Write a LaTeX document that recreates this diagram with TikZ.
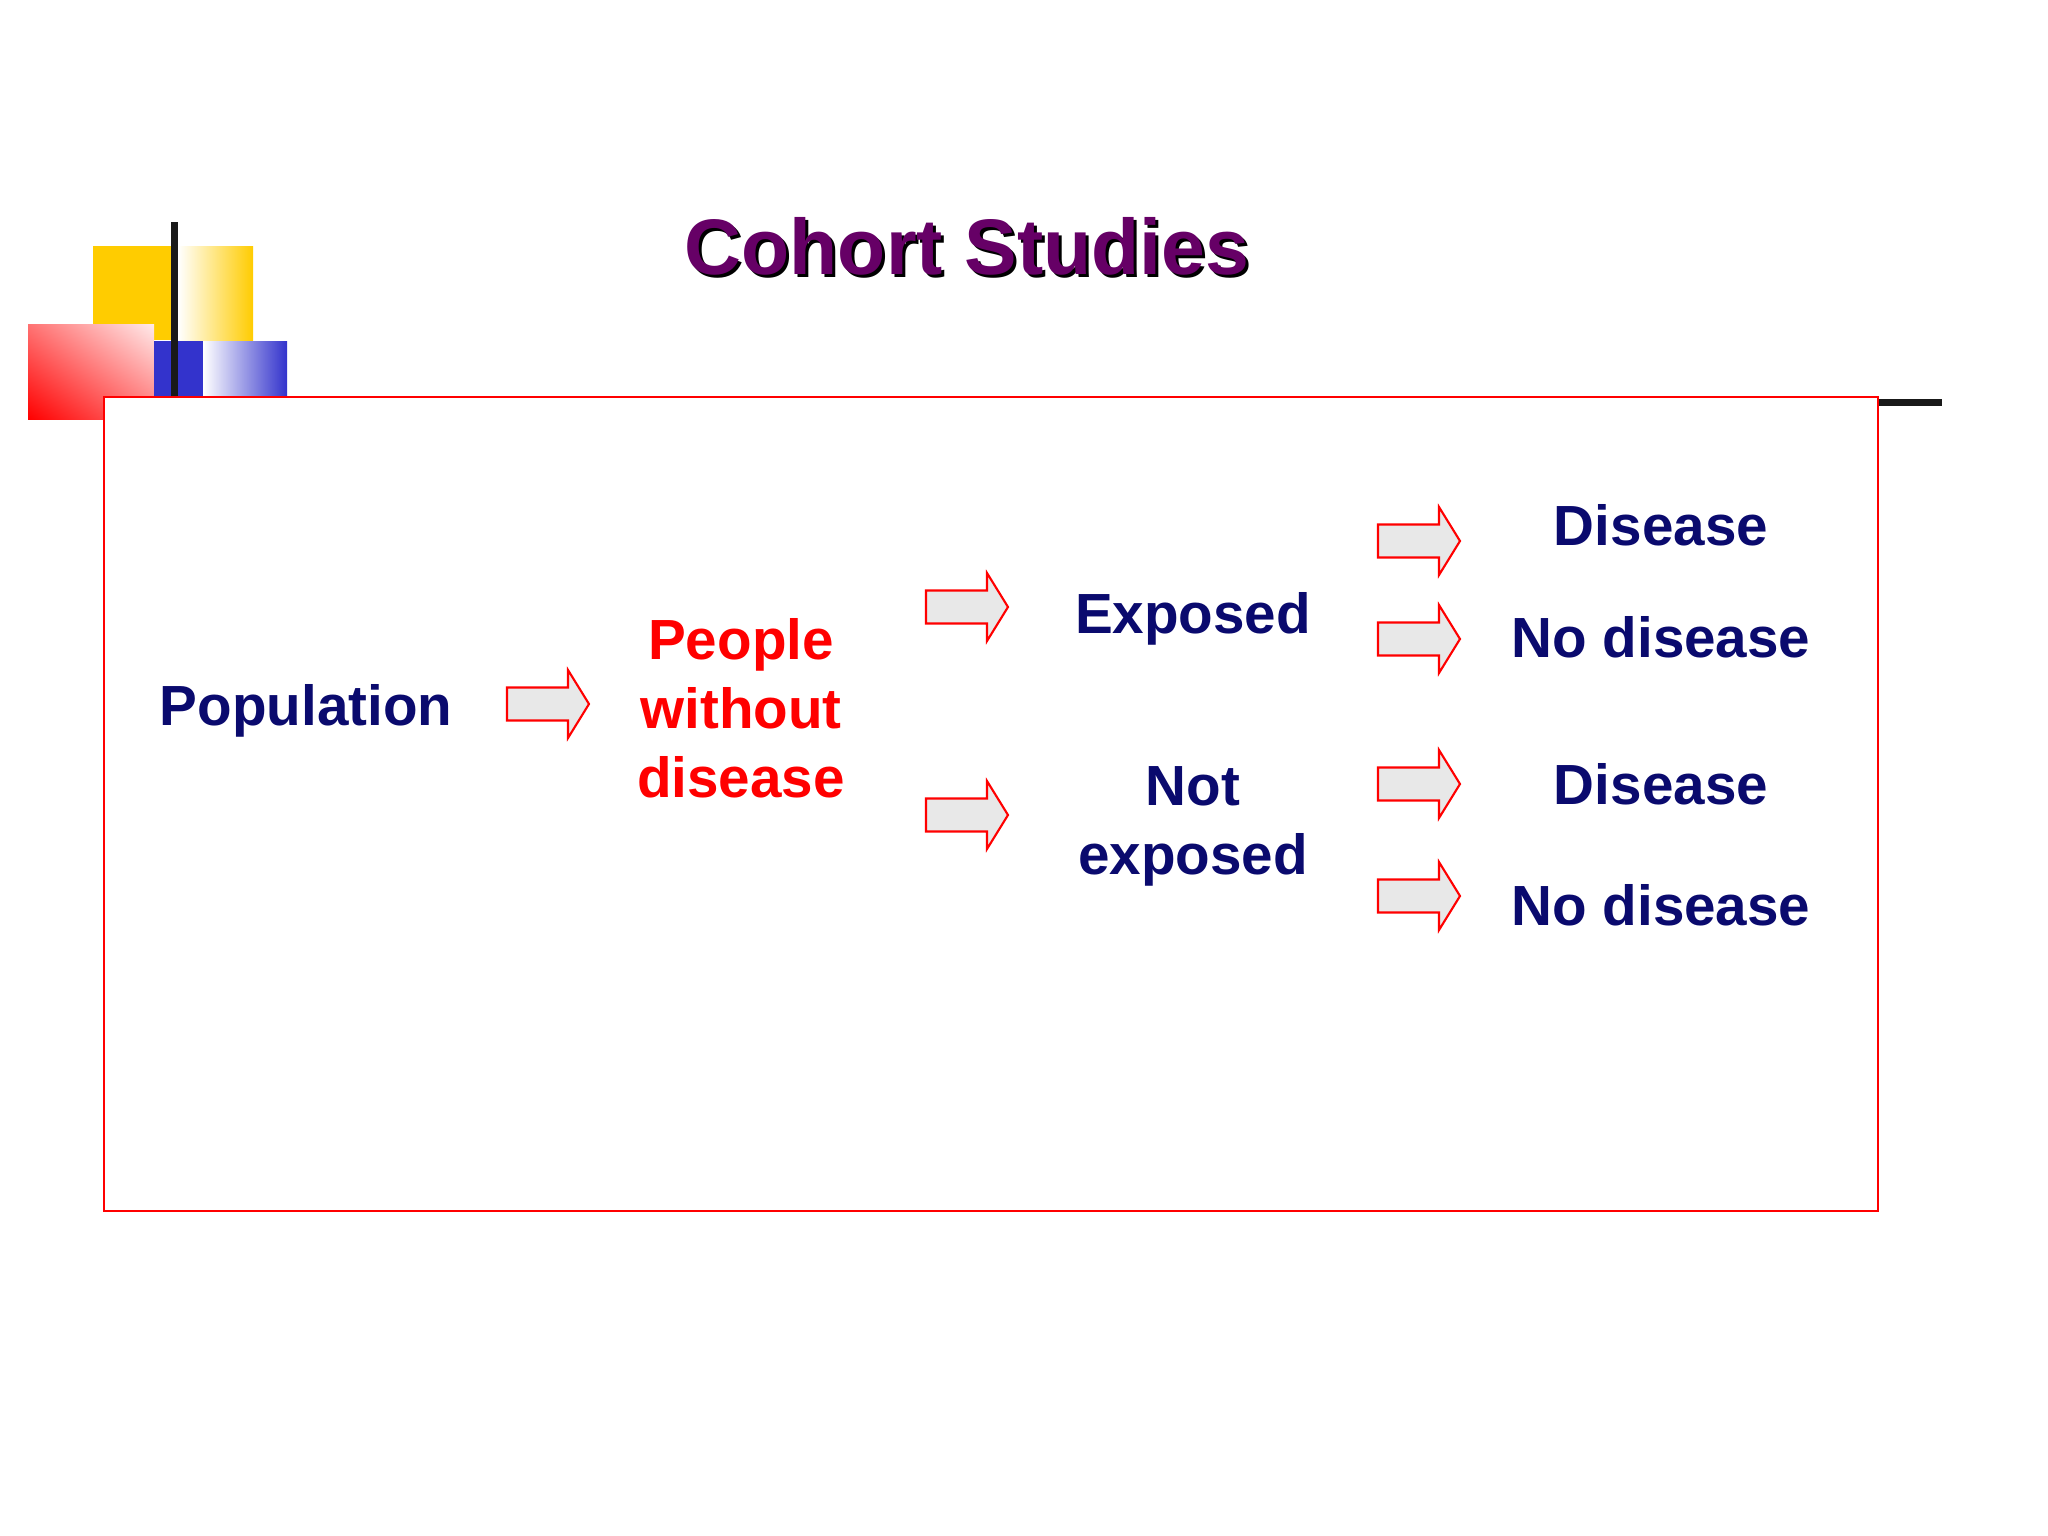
\documentclass[tikz,border=0pt]{standalone}
\usepackage{fontspec}
\setmainfont{Liberation Sans}
\usepackage{tikz}
\usetikzlibrary{positioning, calc, shadings}
\definecolor{cohortnavy}{RGB}{10, 10, 110}
\definecolor{cohortpurple}{RGB}{102, 0, 102}
\definecolor{cohortgold}{RGB}{255, 204, 0}
\definecolor{cohortblue}{RGB}{51, 51, 204}
\definecolor{arrowgray}{RGB}{232, 232, 232}
\tikzset{
  bodytext/.style={font=\fontsize{16.1}{19.5}\selectfont\bfseries, text=cohortnavy, inner sep=0pt, anchor=base, align=center},
  redtext/.style={bodytext, text=red},
  blockarrow/.pic={\draw[red, fill=arrowgray, line width=0.6pt] (0,16.5) -- (61,16.5) -- (61,34) -- (82,0) -- (61,-34) -- (61,-16.5) -- (0,-16.5) -- cycle;}
}

\begin{document}
\begin{tikzpicture}[x=0.01cm, y=-0.01cm]
\useasboundingbox[fill=white] (0,0) rectangle (2048,1536);

% Corner decoration
\fill[cohortgold] (93,246) rectangle (171,340);
\shade[left color=white, right color=cohortgold] (178,246) rectangle (253,340);
\shade[lower left=red, upper right=red!8, upper left=red!55, lower right=red!55] (28,324) rectangle (154,419);
\fill[cohortblue] (154,341) rectangle (203,396);
\shade[left color=white, right color=cohortblue] (203,341) rectangle (287,396);
\fill[black!90] (171,222) rectangle (178,420);
\fill[black!90] (104,399) rectangle (1942,406);

% Title
\node[font=\fontsize{22.4}{26}\selectfont\bfseries, text=black, anchor=base, inner sep=0pt] (titleshadow) at (970,277) {Cohort Studies};
\node[font=\fontsize{22.4}{26}\selectfont\bfseries, text=cohortpurple, anchor=base, inner sep=0pt] (title) at (967,274) {Cohort Studies};

% Main frame
\draw[red, line width=0.7pt, fill=white] (104,397) rectangle (1878,1211);

% Stages (base = last line)
\node[bodytext] (population) at (306,725) {Population};
\node[redtext] (people) at (741,797) {People\\without\\disease};
\node[bodytext] (exposed) at (1193,633) {Exposed};
\node[bodytext] (notexposed) at (1193,874) {Not\\exposed};

% Outcomes
\node[bodytext] (disA) at (1661,545) {Disease};
\node[bodytext] (nodisA) at (1661,657) {No disease};
\node[bodytext] (disB) at (1661,804) {Disease};
\node[bodytext] (nodisB) at (1661,925) {No disease};

% Arrows
\pic at (507,704) {blockarrow};
\pic at (926,607) {blockarrow};
\pic at (926,815) {blockarrow};
\pic at (1378,541) {blockarrow};
\pic at (1378,639) {blockarrow};
\pic at (1378,784) {blockarrow};
\pic at (1378,896) {blockarrow};
\end{tikzpicture}
\end{document}
